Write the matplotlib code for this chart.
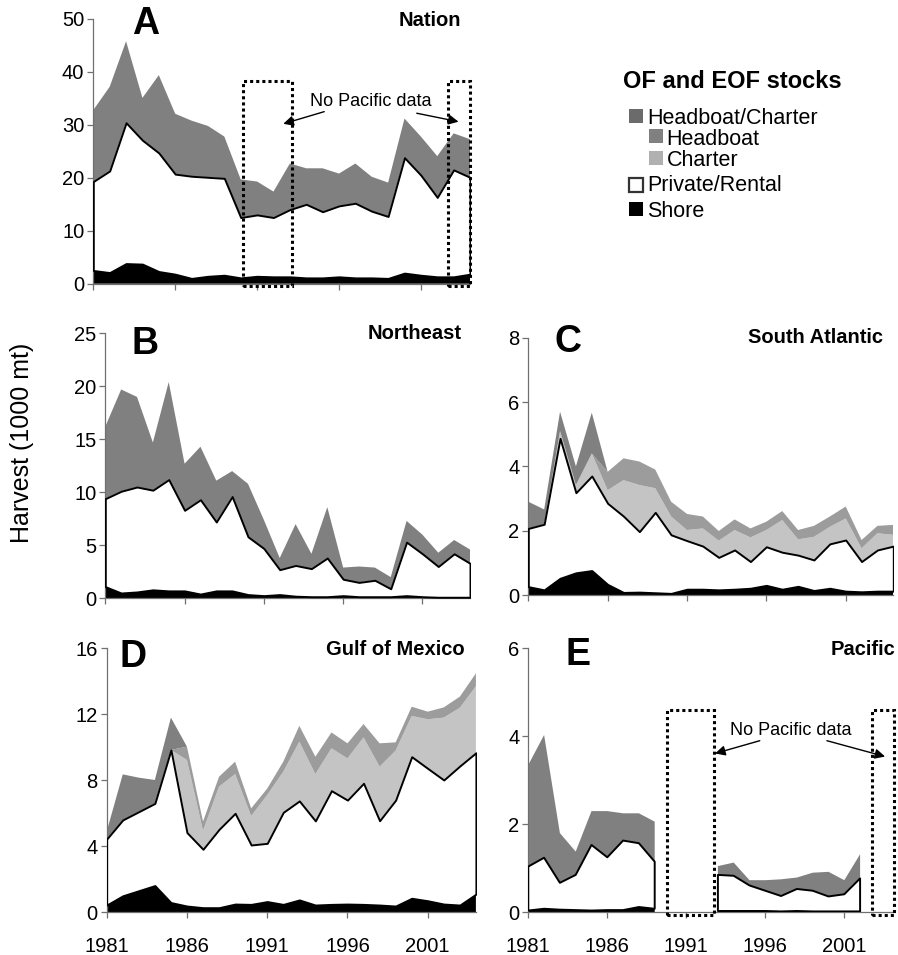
import numpy as np
import matplotlib
matplotlib.use('Agg')
import matplotlib.pyplot as plt
from matplotlib.patches import Rectangle

plt.rcParams['font.family'] = ['Liberation Sans', 'DejaVu Sans']

na = np.nan
years = list(range(1981, 2005))
xticks = [1981, 1986, 1991, 1996, 2001]
legend_labels = ['Headboat/Charter', 'Headboat', 'Charter', 'Private/Rental', 'Shore']
legend_title = 'OF and EOF stocks'
gap_label = 'No Pacific data'

# ---- A: Nation (1000 mt)
nation_shore = [2.5, 2.1, 3.8, 3.7, 2.3, 1.8, 1.0, 1.4, 1.6, 1.1, 1.4, 1.3, 1.3, 1.1, 1.1, 1.3, 1.1, 1.1, 1.0, 2.0, 1.6, 1.3, 1.3, 1.8]
nation_private = [16.8, 19.2, 26.6, 23.4, 22.4, 18.9, 19.3, 18.7, 18.3, 11.4, 11.6, 11.2, 12.7, 13.9, 12.5, 13.4, 14.1, 12.6, 11.7, 21.8, 18.9, 15.0, 20.2, 18.3]
nation_hc = [13.5, 15.9, 15.4, 8.0, 14.7, 11.4, 10.5, 9.7, 7.9, 7.2, 6.3, 4.9, 8.7, 6.8, 8.2, 6.1, 7.5, 6.5, 6.4, 7.4, 7.3, 7.8, 6.9, 7.2]

# ---- B: Northeast
ne_shore = [1.1, 0.5, 0.6, 0.8, 0.7, 0.7, 0.4, 0.7, 0.7, 0.35, 0.25, 0.35, 0.2, 0.15, 0.15, 0.25, 0.15, 0.15, 0.15, 0.25, 0.15, 0.1, 0.1, 0.1]
ne_private = [8.3, 9.6, 9.9, 9.4, 10.5, 7.6, 8.9, 6.5, 8.9, 5.45, 4.45, 2.35, 2.9, 2.65, 3.65, 1.55, 1.35, 1.55, 0.75, 5.05, 4.05, 2.9, 4.1, 3.2]
ne_hc = [6.8, 9.6, 8.5, 4.5, 9.2, 4.4, 5.0, 3.9, 2.4, 5.0, 2.7, 1.1, 3.9, 1.4, 4.8, 1.1, 1.5, 1.2, 1.1, 2.0, 1.8, 1.3, 1.3, 1.3]

# ---- C: South Atlantic
sa_shore = [0.26, 0.16, 0.52, 0.69, 0.76, 0.33, 0.08, 0.09, 0.07, 0.05, 0.18, 0.18, 0.16, 0.18, 0.21, 0.30, 0.18, 0.27, 0.14, 0.21, 0.12, 0.10, 0.12, 0.12]
sa_private = [1.81, 2.04, 4.35, 2.49, 2.94, 2.52, 2.37, 1.88, 2.50, 1.82, 1.51, 1.34, 1.01, 1.22, 0.83, 1.20, 1.15, 0.97, 0.95, 1.38, 1.59, 0.94, 1.28, 1.40]
sa_charter = [0, 0, 0.23, 0.24, 0.70, 0.41, 1.12, 1.45, 0.75, 0.57, 0.33, 0.55, 0.52, 0.62, 0.75, 0.52, 1.00, 0.49, 0.72, 0.53, 0.67, 0.41, 0.52, 0.35]
sa_headboat = [0, 0, 0, 0, 0, 0.57, 0.68, 0.73, 0.58, 0.46, 0.50, 0.37, 0.30, 0.33, 0.28, 0.26, 0.28, 0.29, 0.34, 0.32, 0.37, 0.26, 0.23, 0.31]
sa_hc = [0.83, 0.46, 0.60, 0.58, 1.27, 0, 0, 0, 0, 0, 0, 0, 0, 0, 0, 0, 0, 0, 0, 0, 0, 0, 0, 0]

# ---- D: Gulf of Mexico
gm_shore = [0.44, 1.0, 1.31, 1.62, 0.59, 0.38, 0.28, 0.28, 0.5, 0.48, 0.65, 0.48, 0.75, 0.44, 0.48, 0.5, 0.48, 0.44, 0.38, 0.85, 0.7, 0.5, 0.44, 1.1]
gm_private = [4.0, 4.6, 4.79, 4.98, 9.25, 4.45, 3.54, 4.75, 5.5, 3.6, 3.53, 5.58, 6.0, 5.1, 6.89, 6.3, 7.34, 5.11, 6.42, 8.58, 8.02, 7.52, 8.43, 8.57]
gm_charter = [0, 0, 0, 0, 0, 4.4, 1.13, 2.59, 2.38, 1.76, 2.93, 2.46, 3.59, 2.84, 2.57, 2.53, 2.78, 3.28, 3.0, 2.47, 2.98, 3.78, 3.53, 4.03]
gm_headboat = [0, 0, 0, 0, 0, 0.81, 0.55, 0.6, 0.75, 0.46, 0.39, 0.61, 0.96, 1.05, 0.96, 0.91, 0.81, 1.41, 0.5, 0.56, 0.46, 0.62, 0.67, 0.78]
gm_hc = [0.46, 2.76, 2.06, 1.42, 1.96, 0, 0, 0, 0, 0, 0, 0, 0, 0, 0, 0, 0, 0, 0, 0, 0, 0, 0, 0]

# ---- E: Pacific (no data 1990-1992, 2003-2004)
pa_shore = [0.04, 0.08, 0.06, 0.05, 0.04, 0.05, 0.05, 0.12, 0.08, na, na, na, 0.03, 0.03, 0.03, 0.03, 0.02, 0.03, 0.02, 0.02, 0.02, 0.02, na, na]
pa_private = [1.0, 1.16, 0.61, 0.8, 1.49, 1.2, 1.58, 1.45, 1.07, na, na, na, 0.82, 0.8, 0.58, 0.46, 0.35, 0.5, 0.47, 0.34, 0.39, 0.75, na, na]
pa_hc = [2.31, 2.79, 1.13, 0.53, 0.77, 1.05, 0.62, 0.68, 0.91, na, na, na, 0.2, 0.3, 0.12, 0.24, 0.38, 0.26, 0.41, 0.56, 0.32, 0.55, na, na]

zeros = [0] * len(years)

HC_C, HB_C, CH_C = '#808080', '#9c9c9c', '#c4c4c4'
LEG_COLORS = ['#6b6b6b', '#808080', '#b0b0b0', 'white', 'black']

W, H = 898, 955
fig = plt.figure(figsize=(W / 100, H / 100), dpi=100)


def add_ax(left, right, top, bottom):
    return fig.add_axes([left / W, 1 - bottom / H, (right - left) / W, (bottom - top) / H])


def draw(ax, shore, private, charter, headboat, hc):
    x = np.array(years, float)
    s = np.array(shore, float)
    p = s + np.array(private, float)
    c = p + np.array(charter, float)
    h = c + np.array(headboat, float)
    t = h + np.array(hc, float)
    ax.fill_between(x, 0, s, facecolor='black', lw=0, zorder=2)
    ax.fill_between(x, p, c, facecolor=CH_C, lw=0, zorder=2)
    ax.fill_between(x, c, h, facecolor=HB_C, lw=0, zorder=2)
    ax.fill_between(x, h, t, facecolor=HC_C, lw=0, zorder=2)
    ax.fill_between(x, s, p, facecolor='white', edgecolor='black', lw=1.4, zorder=3)


def style(ax, ymax, ystep, show_x):
    ax.set_xlim(1981, 2004)
    ax.set_ylim(0, ymax)
    ax.set_yticks(np.arange(0, ymax + 0.01, ystep))
    ax.set_xticks(xticks)
    ax.set_xticklabels([str(v) for v in xticks])
    for sp in ['top', 'right']:
        ax.spines[sp].set_visible(False)
    for sp in ['left', 'bottom']:
        ax.spines[sp].set_color('#707070')
        ax.spines[sp].set_linewidth(0.9)
    ax.tick_params(axis='both', direction='out', length=4.5, width=0.9, color='#707070')
    ax.tick_params(axis='y', labelsize=14.5, pad=2)
    ax.tick_params(axis='x', labelsize=14.5, pad=13, labelbottom=show_x)
    ax.patch.set_alpha(0)


def labels(ax, letter, lx, ly, title, tx, ty):
    ax.text(lx, ly, letter, transform=ax.transAxes, ha='center', va='center',
            fontsize=27, fontweight='bold', zorder=6)
    ax.text(tx, ty, title, transform=ax.transAxes, ha='right', va='center',
            fontsize=14.5, fontweight='bold', zorder=6)


def dotted_box(ax, x0, x1, y0, y1):
    ax.add_patch(Rectangle((x0, y0), x1 - x0, y1 - y0, fill=False, ec='black',
                           lw=2.2, ls=(0, (1, 1)), clip_on=False, zorder=5))


def arrow(ax, tail, tip):
    ax.annotate('', xy=tip, xytext=tail,
                arrowprops=dict(arrowstyle='-|>', color='black', lw=1.0,
                                mutation_scale=15, shrinkA=0, shrinkB=0), zorder=6)


# Panel A
axA = add_ax(93.3, 470, 19, 283.7)
draw(axA, nation_shore, nation_private, zeros, zeros, nation_hc)
style(axA, 50, 10, False)
labels(axA, 'A', 0.14, 0.98, 'Nation', 0.977, 0.995)
dotted_box(axA, 1990.16, 1993.12, -0.43, 38.3)
dotted_box(axA, 2002.65, 2004.0, -0.43, 38.3)
axA.text(1997.96, 34.5, gap_label, ha='center', va='center', fontsize=13, zorder=6)
arrow(axA, (1995.1, 32.5), (1992.6, 30.2))
arrow(axA, (2000.75, 32.2), (2003.3, 30.6))

# Panel B
axB = add_ax(105.3, 470, 333.3, 598.3)
draw(axB, ne_shore, ne_private, zeros, zeros, ne_hc)
style(axB, 25, 5, False)
labels(axB, 'B', 0.109, 0.96, 'Northeast', 0.976, 1.0)

# Panel C
axC = add_ax(528.3, 893.3, 337.7, 595)
draw(axC, sa_shore, sa_private, sa_charter, sa_headboat, sa_hc)
style(axC, 8, 2, False)
labels(axC, 'C', 0.11, 0.982, 'South Atlantic', 0.971, 1.0)

# Panel D
axD = add_ax(106.7, 475.9, 648.3, 912.3)
draw(axD, gm_shore, gm_private, gm_charter, gm_headboat, gm_hc)
style(axD, 16, 4, True)
labels(axD, 'D', 0.072, 0.968, 'Gulf of Mexico', 0.97, 0.997)

# Panel E
axE = add_ax(528.3, 891.7, 648.3, 912.3)
draw(axE, pa_shore, pa_private, zeros, zeros, pa_hc)
style(axE, 6, 2, True)
labels(axE, 'E', 0.137, 0.975, 'Pacific', 1.009, 0.997)
dotted_box(axE, 1989.76, 1992.77, -0.07, 4.6)
dotted_box(axE, 2002.78, 2004.15, -0.07, 4.6)
axE.text(1997.6, 4.14, gap_label, ha='center', va='center', fontsize=13, zorder=6)
arrow(axE, (1995.65, 3.9), (1992.82, 3.61))
arrow(axE, (1999.9, 3.9), (2003.58, 3.54))

# Shared y label
fig.text(22 / W, 1 - 443 / H, 'Harvest (1000 mt)', rotation=90, ha='center', va='center', fontsize=18)

# Legend in pixel coordinates
ov = fig.add_axes([0, 0, 1, 1])
ov.set_xlim(0, W)
ov.set_ylim(H, 0)
ov.axis('off')
ov.text(732, 82, legend_title, ha='center', va='center', fontsize=17, fontweight='bold')
sq_x = [629, 649, 649, 629, 629]
sq_y = [109, 129, 151, 178, 202]
txt_x = [647, 666, 667, 647, 647]
base_y = [124, 145, 166, 191, 216.5]
for i, lab in enumerate(legend_labels):
    ec = '#333333' if LEG_COLORS[i] == 'white' else LEG_COLORS[i]
    lw = 1.6 if LEG_COLORS[i] == 'white' else 0
    ov.add_patch(Rectangle((sq_x[i], sq_y[i]), 14, 14, facecolor=LEG_COLORS[i], edgecolor=ec, lw=lw))
    ov.text(txt_x[i], base_y[i], lab, ha='left', va='baseline', fontsize=15.5)

fig.savefig('out.png', dpi=100)
